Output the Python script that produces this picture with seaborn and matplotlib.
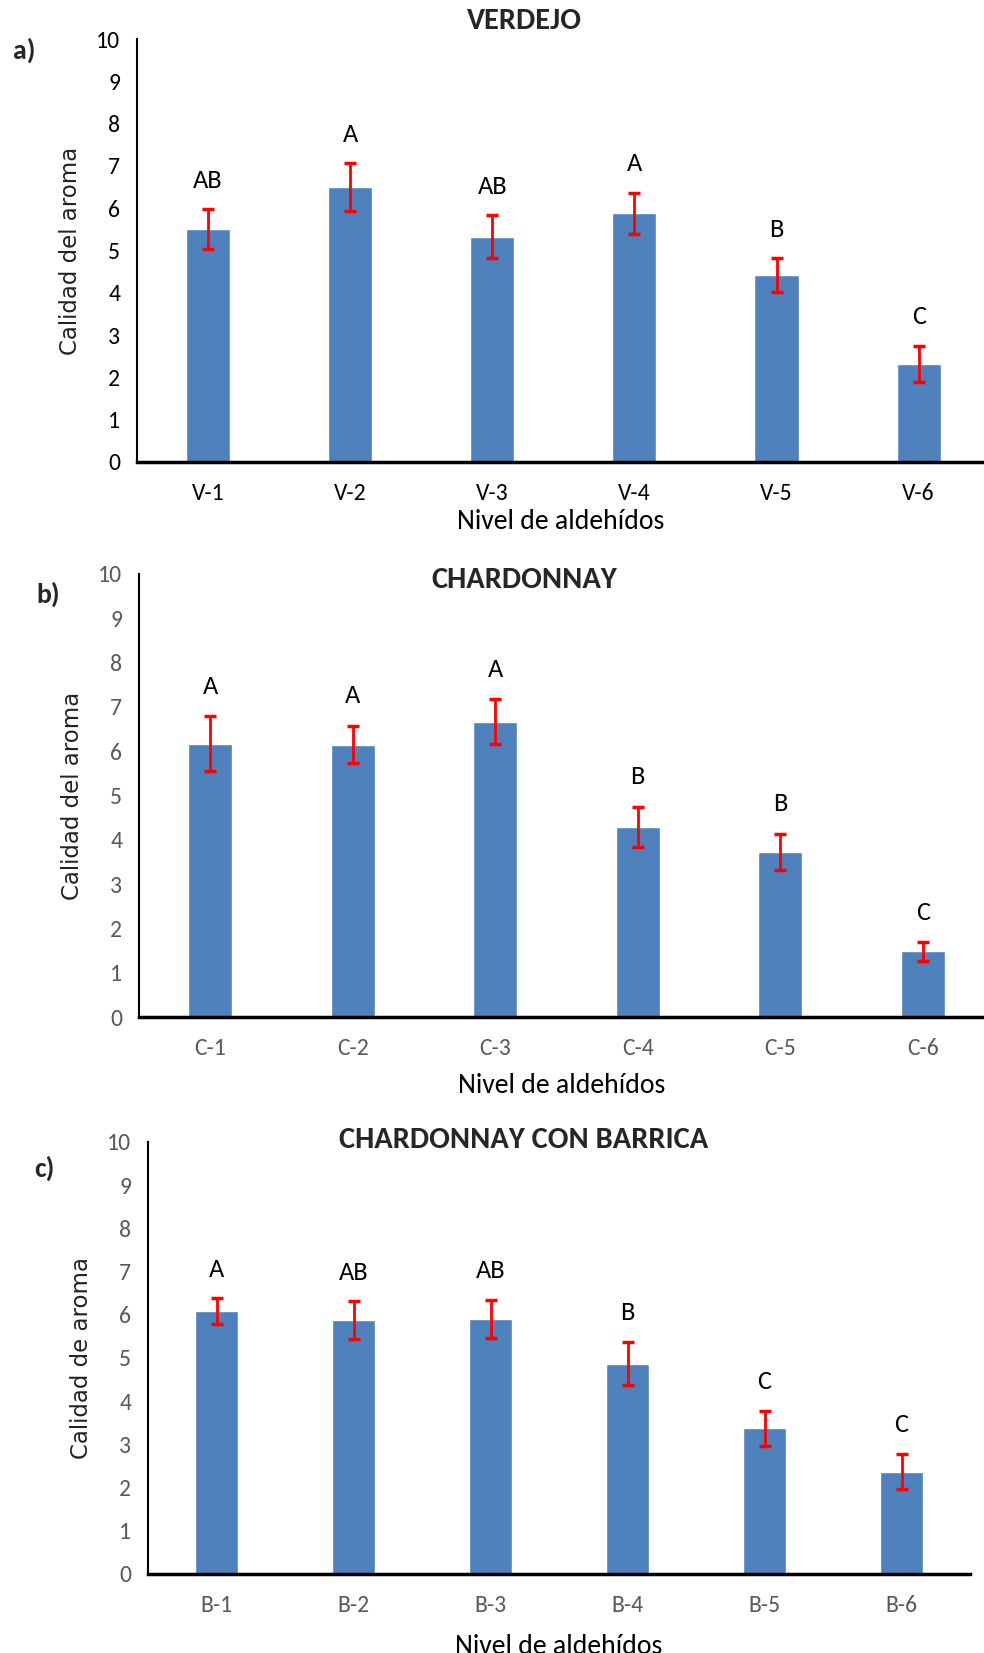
import pandas as pd
import matplotlib
matplotlib.use("Agg")
import matplotlib.pyplot as plt
import seaborn as sns

# datos
verdejo_cat = ["V-1", "V-2", "V-3", "V-4", "V-5", "V-6"]
verdejo_val = [5.51, 6.50, 5.33, 5.88, 4.42, 2.32]
verdejo_err = [0.47, 0.56, 0.50, 0.49, 0.40, 0.43]
verdejo_let = ["AB", "A", "AB", "A", "B", "C"]

chard_cat = ["C-1", "C-2", "C-3", "C-4", "C-5", "C-6"]
chard_val = [6.17, 6.15, 6.67, 4.29, 3.73, 1.48]
chard_err = [0.62, 0.42, 0.50, 0.46, 0.41, 0.21]
chard_let = ["A", "A", "A", "B", "B", "C"]

barrica_cat = ["B-1", "B-2", "B-3", "B-4", "B-5", "B-6"]
barrica_val = [6.08, 5.88, 5.91, 4.87, 3.37, 2.37]
barrica_err = [0.30, 0.43, 0.44, 0.50, 0.41, 0.41]
barrica_let = ["A", "AB", "AB", "B", "C", "C"]

sns.set_style("white")
plt.rcParams["font.family"] = ["Carlito", "Liberation Sans Narrow", "Open Sans", "DejaVu Sans"]

W, H = 984, 1653
fig = plt.figure(figsize=(W / 100, H / 100), dpi=100)

BLUE = "#4F81BD"
GRIS = "#595959"

# (titulo, etiqueta, ylabel, cats, vals, errs, letras, left, right, top, bottom, xmax, title_y, tag_xy, pad xlabel)
paneles = [
    ("VERDEJO", "a)", "Calidad del aroma", verdejo_cat, verdejo_val, verdejo_err, verdejo_let,
     137, 984, 39, 462, 5.46, 21, (24, 50), 4),
    ("CHARDONNAY", "b)", "Calidad del aroma", chard_cat, chard_val, chard_err, chard_let,
     139, 984, 574, 1017, 5.43, 580, (48, 594), 10),
    ("CHARDONNAY CON BARRICA", "c)", "Calidad de aroma", barrica_cat, barrica_val, barrica_err, barrica_let,
     148, 970, 1142, 1574, 5.5, 1140, (44, 1168), 13),
]

for (titulo, tag, ylab, cats, vals, errs, lets, l, r, t, b, xmax, ty, tag_xy, xpad) in paneles:
    ax = fig.add_axes([l / W, 1 - b / H, (r - l) / W, (b - t) / H])
    df = pd.DataFrame({"nivel": cats, "calidad": vals})
    sns.barplot(data=df, x="nivel", y="calidad", color=BLUE, width=0.31,
                saturation=1, ax=ax)
    ax.errorbar(range(len(cats)), vals, yerr=errs, fmt="none", ecolor="#FF0000",
                elinewidth=2, capsize=4.5, capthick=2.5)
    for i, (v, e, s) in enumerate(zip(vals, errs, lets)):
        ax.text(i, v + e + 0.68, s, ha="center", va="center", fontsize=19, color="black")

    ax.set_xlim(-0.5, xmax)
    ax.set_ylim(0, 10)
    ax.set_yticks(range(0, 11))
    ax.tick_params(axis="both", length=0, labelsize=17, labelcolor=GRIS)
    ax.tick_params(axis="x", pad=15)
    ax.tick_params(axis="y", pad=12)
    if tag == "a)":
        for lb in ax.get_xticklabels() + ax.get_yticklabels():
            lb.set_color("black")

    ax.set_xlabel("Nivel de aldehídos", fontsize=20, color="black", labelpad=xpad)
    ax.set_ylabel(ylab, fontsize=16.5, color="#222222", family="DejaVu Sans", labelpad=10)

    sns.despine(ax=ax, top=True, right=True)
    ax.spines["left"].set_color("black")
    ax.spines["left"].set_linewidth(1.5)
    ax.spines["bottom"].set_color("black")
    ax.spines["bottom"].set_linewidth(2.5)

    fig.text(524 / W, 1 - ty / H, titulo, ha="center", va="center",
             fontsize=22, fontweight="bold")
    fig.text(tag_xy[0] / W, 1 - tag_xy[1] / H, tag, ha="center", va="center",
             fontsize=20, fontweight="bold")

fig.savefig("out.png", dpi=100)
